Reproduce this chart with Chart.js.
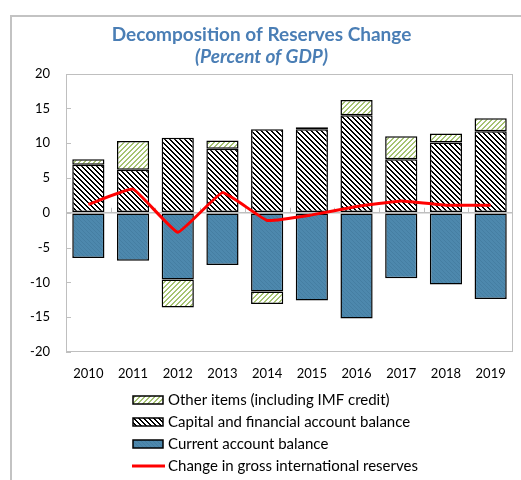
<!DOCTYPE html>
<html>
<head>
<meta charset="utf-8">
<script src="https://cdn.jsdelivr.net/npm/chart.js@4.4.0/dist/chart.umd.min.js"></script>
<style>
  html, body { margin: 0; padding: 0; background: #fff; }
  #wrap { width: 521px; height: 480px; position: relative; }
</style>
</head>
<body>
<div id="wrap"><canvas id="c" width="521" height="480"></canvas></div>
<script>
// ---- data ----
const categories = ['2010', '2011', '2012', '2013', '2014', '2015', '2016', '2017', '2018', '2019'];
const currentAccount = [-6.5, -6.9, -9.6, -7.5, -11.3, -12.6, -15.2, -9.4, -10.3, -12.4];
const capitalFinancial = [6.9, 6.2, 10.8, 9.2, 12.0, 12.0, 14.0, 7.7, 10.1, 11.7];
const otherItems = [0.8, 4.1, -4.0, 1.2, -1.8, 0.3, 2.2, 3.3, 1.3, 1.9];
const reservesChange = [1.2, 3.4, -2.8, 2.9, -1.1, -0.3, 0.9, 1.7, 1.1, 1.1];
const yMin = -20, yMax = 20, yStep = 5;
const seriesNames = [
  'Current account balance',
  'Capital and financial account balance',
  'Other items (including IMF credit)',
  'Change in gross international reserves'
];
const titleText = 'Decomposition of Reserves Change';
const subtitleText = '(Percent of GDP)';

// ---- patterns ----
function makePattern(size, bg, fg, test) {
  const c = document.createElement('canvas');
  c.width = size; c.height = size;
  const g = c.getContext('2d');
  g.fillStyle = bg; g.fillRect(0, 0, size, size);
  g.fillStyle = fg;
  for (let y = 0; y < size; y++) {
    for (let x = 0; x < size; x++) {
      if (test(x, y)) g.fillRect(x, y, 1, 1);
    }
  }
  return g.createPattern(c, 'repeat');
}
const mod = (a, n) => ((a % n) + n) % n;
const blackHatch = makePattern(10, '#ffffff', '#000000',
  (x, y) => mod(x - y, 5) < 2);
const greenHatch = makePattern(10, '#ffffff', '#a6c472',
  (x, y) => mod(x + y, 5) < 2);
const blueFill = makePattern(8, '#4d88ad', '#457ea2',
  (x, y) => mod(x - y, 4) === 0);

// ---- plugins ----
const framePlugin = {
  id: 'frame',
  beforeDraw(chart) {
    const ctx = chart.ctx;
    ctx.save();
    ctx.fillStyle = '#fff';
    ctx.fillRect(0, 0, chart.width, chart.height);
    ctx.strokeStyle = '#c3c3c3';
    ctx.lineWidth = 2;
    ctx.strokeRect(11, 16, chart.width + 40, chart.height + 40);
    ctx.restore();
  },
  beforeDatasetsDraw(chart) {
    const ctx = chart.ctx;
    const { left, right, top, bottom } = chart.chartArea;
    const ys = chart.scales.y, xs = chart.scales.x;
    ctx.save();
    ctx.strokeStyle = '#bfbfbf';
    ctx.lineWidth = 1;
    ctx.strokeRect(Math.round(left) + 0.5, Math.round(top) + 0.5,
      Math.round(right - left) - 1, Math.round(bottom - top) - 1);
    ctx.beginPath();
    ys.ticks.forEach(t => {
      const py = Math.round(ys.getPixelForValue(t.value)) + 0.5;
      ctx.moveTo(left, py); ctx.lineTo(left + 5, py);
    });
    const zy = ys.getPixelForValue(0);
    for (let i = 1; i < categories.length; i++) {
      const px = Math.round((xs.getPixelForValue(i - 1) + xs.getPixelForValue(i)) / 2) + 0.5;
      ctx.moveTo(px, zy); ctx.lineTo(px, zy - 5);
    }
    ctx.stroke();
    ctx.restore();
  },
  afterDraw(chart) {
    const ctx = chart.ctx;
    const ds = chart.data.datasets;
    const order = [2, 1, 0, 3];
    const x0 = 133, rowY0 = 400, rowGap = 22;
    ctx.save();
    ctx.font = '15px Lato';
    ctx.textBaseline = 'middle';
    ctx.textAlign = 'left';
    order.forEach((di, r) => {
      const d = ds[di];
      const cy = rowY0 + r * rowGap;
      if (d.type === 'line') {
        ctx.strokeStyle = d.borderColor;
        ctx.lineWidth = 3;
        ctx.beginPath();
        ctx.moveTo(x0 - 1, cy); ctx.lineTo(x0 + 32, cy);
        ctx.stroke();
      } else {
        ctx.fillStyle = d.backgroundColor;
        ctx.fillRect(x0, cy - 4, 30, 8);
        ctx.strokeStyle = '#000';
        ctx.lineWidth = 1.5;
        ctx.strokeRect(x0, cy - 4, 30, 8);
      }
      ctx.fillStyle = '#000';
      ctx.fillText(d.label, x0 + 35, cy);
    });
    ctx.restore();
  }
};

Chart.defaults.font.family = 'Lato';
Chart.defaults.color = '#000';

new Chart(document.getElementById('c'), {
  data: {
    labels: categories,
    datasets: [
      {
        type: 'bar', label: seriesNames[0], data: currentAccount,
        backgroundColor: blueFill, borderColor: '#000', borderWidth: 1.5,
        borderSkipped: false, order: 1, stack: 'bars'
      },
      {
        type: 'bar', label: seriesNames[1], data: capitalFinancial,
        backgroundColor: blackHatch, borderColor: '#000', borderWidth: 1.5,
        borderSkipped: false, order: 1, stack: 'bars'
      },
      {
        type: 'bar', label: seriesNames[2], data: otherItems,
        backgroundColor: greenHatch, borderColor: '#000', borderWidth: 1.5,
        borderSkipped: false, order: 1, stack: 'bars'
      },
      {
        type: 'line', label: seriesNames[3], data: reservesChange,
        borderColor: '#ff0000', borderWidth: 3, pointRadius: 0,
        tension: 0.1, fill: false, order: 0, stack: 'line'
      }
    ]
  },
  options: {
    responsive: false,
    animation: false,
    events: [],
    layout: { padding: { left: 10, right: 8, top: 15, bottom: 98 } },
    plugins: {
      legend: { display: false },
      tooltip: { enabled: false },
      title: {
        display: true, text: titleText, color: '#4a7eb5',
        font: { family: 'Lato', size: 19, weight: 'bold' },
        padding: { top: 8, bottom: 0 }
      },
      subtitle: {
        display: true, text: subtitleText, color: '#4a7eb5',
        font: { family: 'Lato', size: 19, weight: 'bold', style: 'italic' },
        padding: { top: 0, bottom: 5 }
      }
    },
    scales: {
      x: {
        stacked: true,
        categoryPercentage: 0.49, barPercentage: 1,
        grid: { display: false, drawTicks: false },
        border: { display: false },
        ticks: { padding: 14, font: { size: 13 }, color: '#000' },
        afterFit(s) { s.height = 30; }
      },
      y: {
        stacked: true,
        min: yMin, max: yMax,
        ticks: { stepSize: yStep, padding: 16, font: { size: 13 }, color: '#000' },
        grid: {
          drawTicks: false,
          color: c => (c.tick && c.tick.value === 0) ? '#bfbfbf' : 'rgba(0,0,0,0)',
          lineWidth: 1.5
        },
        border: { display: false },
        afterFit(s) { s.width = 56; }
      }
    }
  },
  plugins: [framePlugin]
});
</script>
</body>
</html>
